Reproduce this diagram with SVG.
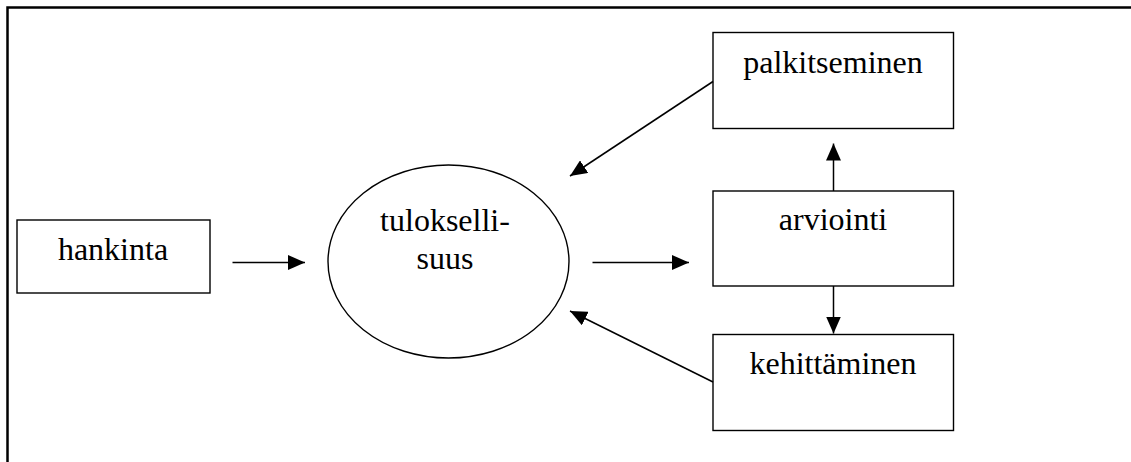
<svg xmlns="http://www.w3.org/2000/svg" width="1131" height="462" viewBox="0 0 1131 462">
<style>
.box{fill:#fff;stroke:#000;stroke-width:1.4}
.lbl{font-family:"Liberation Serif","Times New Roman",serif;font-size:32px;fill:#000;text-anchor:middle}
.con{stroke:#000;stroke-width:1.5;fill:none}
.frame{stroke:#000;stroke-width:2.5;fill:none}
</style>
<defs>
<marker id="ah" markerUnits="userSpaceOnUse" markerWidth="17" markerHeight="15" refX="17" refY="7.5" orient="auto">
<path d="M0,0 L17,7.5 L0,15 Z" fill="#000"/>
</marker>
</defs>
<rect width="1131" height="462" fill="#fff"/>
<path class="frame" d="M7.5,462 L7.5,7.5 L1131,7.5"/>
<g id="hankinta">
<rect class="box" x="17" y="220" width="193" height="73"/>
<text class="lbl" x="113" y="260">hankinta</text>
</g>
<g id="tuloksellisuus">
<ellipse class="box" cx="448.5" cy="261.5" rx="120.5" ry="96.5"/>
<text class="lbl" x="445" y="231">tulokselli-</text>
<text class="lbl" x="445" y="269">suus</text>
</g>
<g id="palkitseminen">
<rect class="box" x="713" y="32.5" width="240.5" height="96"/>
<text class="lbl" x="833" y="73">palkitseminen</text>
</g>
<g id="arviointi">
<rect class="box" x="713" y="191" width="240.5" height="95"/>
<text class="lbl" x="833" y="230">arviointi</text>
</g>
<g id="kehittaminen">
<rect class="box" x="713" y="334.5" width="240.5" height="96"/>
<text class="lbl" x="833" y="374">kehittäminen</text>
</g>
<g id="connectors">
<line class="con" x1="232.5" y1="262.5" x2="305" y2="262.5" marker-end="url(#ah)"/>
<line class="con" x1="592.5" y1="262.5" x2="689" y2="262.5" marker-end="url(#ah)"/>
<line class="con" x1="833.5" y1="191" x2="833.5" y2="143.5" marker-end="url(#ah)"/>
<line class="con" x1="833.5" y1="286" x2="833.5" y2="333.5" marker-end="url(#ah)"/>
<line class="con" x1="713" y1="81.5" x2="570" y2="176" marker-end="url(#ah)"/>
<line class="con" x1="713" y1="382" x2="570" y2="311" marker-end="url(#ah)"/>
</g>
</svg>
